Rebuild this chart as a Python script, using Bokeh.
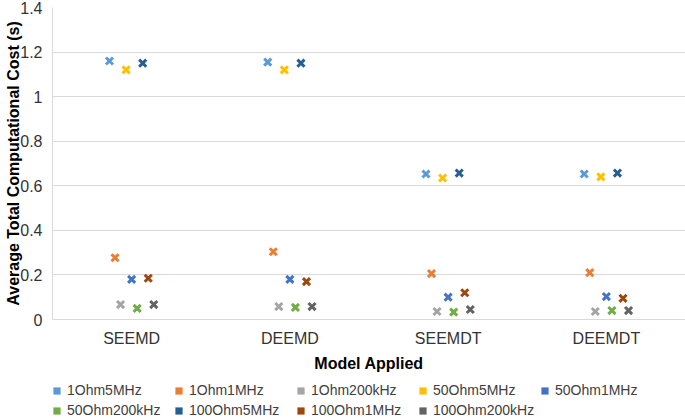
from bokeh.plotting import figure
from bokeh.models import ColumnDataSource, FactorRange, Legend, LegendItem, FixedTicker, Range1d
from bokeh.layouts import column
from bokeh.transform import dodge
from bokeh.embed import file_html
from bokeh.resources import INLINE

categories = ["SEEMD", "DEEMD", "SEEMDT", "DEEMDT"]

series_names = ["1Ohm5MHz", "1Ohm1MHz", "1Ohm200kHz", "50Ohm5MHz", "50Ohm1MHz",
                "50Ohm200kHz", "100Ohm5MHz", "100Ohm1MHz", "100Ohm200kHz"]
series_colors = ["#5B9BD5", "#ED7D31", "#A5A5A5", "#FFC000", "#4472C4",
                 "#70AD47", "#255E91", "#9E480E", "#636363"]

v_1ohm5mhz = [1.160, 1.155, 0.653, 0.653]
v_1ohm1mhz = [0.277, 0.304, 0.206, 0.210]
v_1ohm200khz = [0.067, 0.058, 0.036, 0.036]
v_50ohm5mhz = [1.120, 1.120, 0.635, 0.640]
v_50ohm1mhz = [0.180, 0.180, 0.100, 0.103]
v_50ohm200khz = [0.050, 0.054, 0.033, 0.040]
v_100ohm5mhz = [1.150, 1.150, 0.657, 0.657]
v_100ohm1mhz = [0.185, 0.170, 0.120, 0.095]
v_100ohm200khz = [0.067, 0.058, 0.045, 0.040]

series_values = [v_1ohm5mhz, v_1ohm1mhz, v_1ohm200khz, v_50ohm5mhz, v_50ohm1mhz,
                 v_50ohm200khz, v_100ohm5mhz, v_100ohm1mhz, v_100ohm200khz]

y_ticks = [0, 0.2, 0.4, 0.6, 0.8, 1.0, 1.2, 1.4]
y_tick_labels = ["0", "0.2", "0.4", "0.6", "0.8", "1", "1.2", "1.4"]

FONT = "Liberation Sans"
W = 685

p = figure(width=W, height=382, x_range=FactorRange(*categories), y_range=Range1d(0, 1.4),
           output_backend="svg", toolbar_location=None,
           min_border_left=52, min_border_right=0, min_border_top=7, min_border_bottom=63)
p.outline_line_color = None
p.background_fill_color = "white"

# legend strip below the chart (shares the chart's ranges)
lg = figure(width=W, height=36, x_range=p.x_range, y_range=p.y_range,
            output_backend="svg", toolbar_location=None,
            x_axis_location=None, y_axis_location=None,
            min_border_left=0, min_border_right=0, min_border_top=0, min_border_bottom=0)
lg.outline_line_color = None
lg.grid.grid_line_color = None

step = 0.035
legend_items = []
for i, (name, color, vals) in enumerate(zip(series_names, series_colors, series_values)):
    src = ColumnDataSource(dict(cat=categories, val=vals))
    xpos = dodge("cat", (i - 4) * step, range=p.x_range)
    p.scatter(x=xpos, y="val", source=src,
              marker="x", size=10, line_width=3, line_color=color)
    # hidden proxy, only used for the square legend swatch
    proxy = lg.vbar(x=xpos, top="val", width=0.03, source=src,
                    fill_color=color, line_color=None, visible=False)
    legend_items.append(LegendItem(label=name, renderers=[proxy]))

p.xgrid.grid_line_color = None
p.ygrid.grid_line_color = "#D9D9D9"
p.ygrid.grid_line_width = 1

p.yaxis.ticker = FixedTicker(ticks=y_ticks)
p.yaxis.major_label_overrides = {t: l for t, l in zip(y_ticks, y_tick_labels)}
p.yaxis.axis_label = "Average Total Computational Cost (s)"
p.yaxis.axis_line_color = "#D9D9D9"
p.yaxis.major_tick_line_color = None
p.yaxis.minor_tick_line_color = None
p.yaxis.major_label_standoff = 4
p.yaxis.axis_label_standoff = -5

p.xaxis.axis_label = "Model Applied"
p.xaxis.axis_line_color = "#D9D9D9"
p.xaxis.major_tick_line_color = None
p.xaxis.major_label_standoff = 4
p.xaxis.axis_label_standoff = 5

for ax in (p.xaxis, p.yaxis):
    ax.major_label_text_font = FONT
    ax.major_label_text_font_size = "16px"
    ax.major_label_text_color = "#333333"
    ax.axis_label_text_font = FONT
    ax.axis_label_text_font_size = "16px"
    ax.axis_label_text_font_style = "bold"
    ax.axis_label_text_color = "#000000"

legend = Legend(items=legend_items, orientation="horizontal", ncols=5,
                location=(0, -2), padding=0, margin=0, spacing=0,
                glyph_width=9, glyph_height=9, label_standoff=6, label_width=107,
                label_height=20, label_text_font=FONT, label_text_font_size="14px",
                label_text_color="#404040", border_line_color=None,
                background_fill_alpha=0)
lg.add_layout(legend, "center")

layout = column(p, lg, spacing=0)
open("out.html", "w").write(file_html(layout, INLINE))
